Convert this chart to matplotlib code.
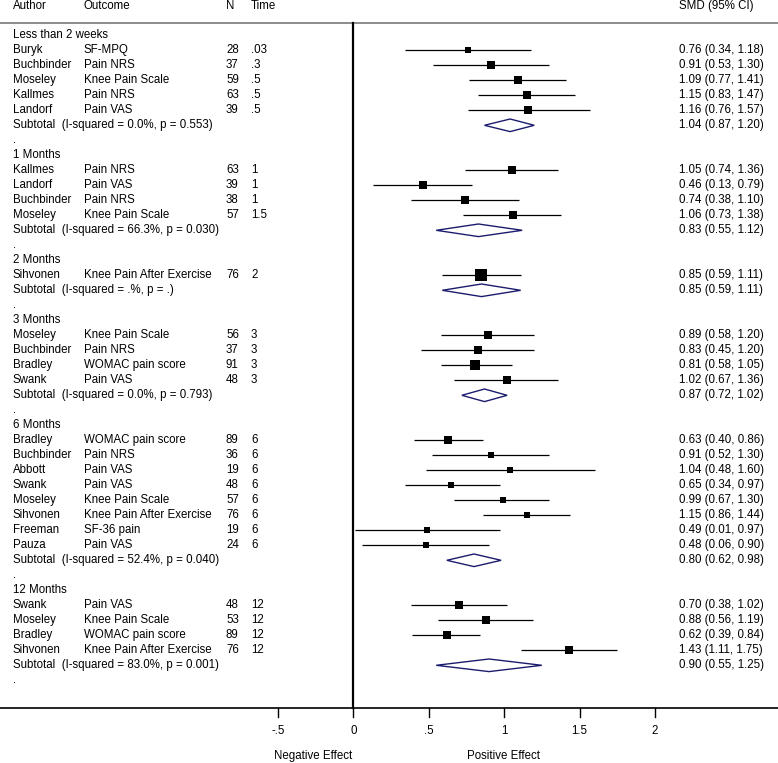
import numpy as np
import matplotlib
matplotlib.use("Agg")
import matplotlib.pyplot as plt
from matplotlib.patches import Polygon

plt.rcParams['font.family'] = ['Liberation Sans', 'DejaVu Sans']

groups = ["Less than 2 weeks", "1 Months", "2 Months", "3 Months", "6 Months", "12 Months"]

study_group = [0, 0, 0, 0, 0,
               1, 1, 1, 1,
               2,
               3, 3, 3, 3,
               4, 4, 4, 4, 4, 4, 4, 4,
               5, 5, 5, 5]
authors = ["Buryk", "Buchbinder", "Moseley", "Kallmes", "Landorf",
           "Kallmes", "Landorf", "Buchbinder", "Moseley",
           "Sihvonen",
           "Moseley", "Buchbinder", "Bradley", "Swank",
           "Bradley", "Buchbinder", "Abbott", "Swank", "Moseley", "Sihvonen", "Freeman", "Pauza",
           "Swank", "Moseley", "Bradley", "Sihvonen"]
outcomes = ["SF-MPQ", "Pain NRS", "Knee Pain Scale", "Pain NRS", "Pain VAS",
            "Pain NRS", "Pain VAS", "Pain NRS", "Knee Pain Scale",
            "Knee Pain After Exercise",
            "Knee Pain Scale", "Pain NRS", "WOMAC pain score", "Pain VAS",
            "WOMAC pain score", "Pain NRS", "Pain VAS", "Pain VAS", "Knee Pain Scale",
            "Knee Pain After Exercise", "SF-36 pain", "Pain VAS",
            "Pain VAS", "Knee Pain Scale", "WOMAC pain score", "Knee Pain After Exercise"]
n_pat = ["28", "37", "59", "63", "39",
         "63", "39", "38", "57",
         "76",
         "56", "37", "91", "48",
         "89", "36", "19", "48", "57", "76", "19", "24",
         "48", "53", "89", "76"]
times = [".03", ".3", ".5", ".5", ".5",
         "1", "1", "1", "1.5",
         "2",
         "3", "3", "3", "3",
         "6", "6", "6", "6", "6", "6", "6", "6",
         "12", "12", "12", "12"]
smd = [0.76, 0.91, 1.09, 1.15, 1.16,
       1.05, 0.46, 0.74, 1.06,
       0.85,
       0.89, 0.83, 0.81, 1.02,
       0.63, 0.91, 1.04, 0.65, 0.99, 1.15, 0.49, 0.48,
       0.70, 0.88, 0.62, 1.43]
ci_lo = [0.34, 0.53, 0.77, 0.83, 0.76,
         0.74, 0.13, 0.38, 0.73,
         0.59,
         0.58, 0.45, 0.58, 0.67,
         0.40, 0.52, 0.48, 0.34, 0.67, 0.86, 0.01, 0.06,
         0.38, 0.56, 0.39, 1.11]
ci_hi = [1.18, 1.30, 1.41, 1.47, 1.57,
         1.36, 0.79, 1.10, 1.38,
         1.11,
         1.20, 1.20, 1.05, 1.36,
         0.86, 1.30, 1.60, 0.97, 1.30, 1.44, 0.97, 0.90,
         1.02, 1.19, 0.84, 1.75]
weight = [15, 18, 26, 25, 16,
          26, 25, 24, 25,
          100,
          24, 16, 41, 19,
          17, 12, 8, 14, 14, 15, 9, 11,
          25, 25, 26, 24]

sub_het = ["I-squared = 0.0%, p = 0.553", "I-squared = 66.3%, p = 0.030",
           "I-squared = .%, p = .", "I-squared = 0.0%, p = 0.793",
           "I-squared = 52.4%, p = 0.040", "I-squared = 83.0%, p = 0.001"]
sub_smd = [1.04, 0.83, 0.85, 0.87, 0.80, 0.90]
sub_lo = [0.87, 0.55, 0.59, 0.72, 0.62, 0.55]
sub_hi = [1.20, 1.12, 1.11, 1.02, 0.98, 1.25]

ticks = [-0.5, 0, 0.5, 1, 1.5, 2]
tick_labels = ["-.5", "0", ".5", "1", "1.5", "2"]

# layout (pixels of a 778x763 image)
W, H = 778, 763
x0_px, unit_px = 353.3, 150.8
row0_px, row_px = 35.3, 15.0


def px_row(py):
    return (py - row0_px) / row_px


fig = plt.figure(figsize=(W / 100, H / 100), dpi=100)
ax = fig.add_axes([0, 0, 1, 1])
ax.set_xlim(-x0_px / unit_px, (W - x0_px) / unit_px)
ax.set_ylim(px_row(H), px_row(0))
ax.axis("off")

tr = ax.get_yaxis_transform()  # x in axes fraction, y in rows
fs = 8.3
col_author, col_outcome, col_n, col_time, col_smd = 13 / W, 84 / W, 226 / W, 251 / W, 679 / W


def fmt(e, lo, hi):
    return f"{e:.2f} ({lo:.2f}, {hi:.2f})"


# header
hy = px_row(6)
for cx, t in [(col_author, "Author"), (col_outcome, "Outcome"), (col_n, "N"),
              (col_time, "Time"), (col_smd, "SMD (95% CI)")]:
    ax.text(cx, hy, t, transform=tr, fontsize=fs, va="center", ha="left")

row = 0
for g, name in enumerate(groups):
    ax.text(col_author, row, name, transform=tr, fontsize=fs, va="center")
    row += 1
    for i in [k for k, s in enumerate(study_group) if s == g]:
        ax.text(col_author, row, authors[i], transform=tr, fontsize=fs, va="center")
        ax.text(col_outcome, row, outcomes[i], transform=tr, fontsize=fs, va="center")
        ax.text(col_n, row, n_pat[i], transform=tr, fontsize=fs, va="center")
        ax.text(col_time, row, times[i], transform=tr, fontsize=fs, va="center")
        ax.text(col_smd, row, fmt(smd[i], ci_lo[i], ci_hi[i]), transform=tr,
                fontsize=fs, va="center")
        ax.plot([ci_lo[i], ci_hi[i]], [row, row], color="black", lw=0.9,
                solid_capstyle="butt", zorder=2)
        side_pt = (3.8 + 8.2 * np.sqrt(weight[i] / 100)) * 0.72
        ax.scatter([smd[i]], [row], marker="s", s=side_pt ** 2, color="black",
                   linewidths=0, zorder=3)
        row += 1
    ax.text(col_author, row, f"Subtotal  ({sub_het[g]})", transform=tr,
            fontsize=fs, va="center")
    ax.text(col_smd, row, fmt(sub_smd[g], sub_lo[g], sub_hi[g]), transform=tr,
            fontsize=fs, va="center")
    h = 0.42
    ax.add_patch(Polygon([(sub_lo[g], row), (sub_smd[g], row - h),
                          (sub_hi[g], row), (sub_smd[g], row + h)],
                         closed=True, facecolor="white", edgecolor="#1c1c6e",
                         lw=1.0, zorder=3))
    row += 1
    ax.text(col_author, row, ".", transform=tr, fontsize=fs, va="center")
    row += 1

# frame lines
top_y = px_row(23.3)
axis_y = px_row(708)
ax.axhline(top_y, color="#8c8c8c", lw=1.4, zorder=1)
ax.axhline(axis_y, color="black", lw=1.2, zorder=1)
ax.plot([0, 0], [top_y, axis_y], color="black", lw=1.6, zorder=4)

# x axis ticks
tick_end = px_row(717)
lab_y = px_row(731)
for t, lab in zip(ticks, tick_labels):
    ax.plot([t, t], [axis_y, tick_end], color="black", lw=1.0)
    ax.text(t, lab_y, lab, fontsize=fs, ha="center", va="center")

eff_y = px_row(756)
ax.text((313 - x0_px) / unit_px, eff_y, "Negative Effect", fontsize=fs,
        ha="center", va="center")
ax.text((503 - x0_px) / unit_px, eff_y, "Positive Effect", fontsize=fs,
        ha="center", va="center")

fig.savefig("out.png", dpi=100, facecolor="white")
